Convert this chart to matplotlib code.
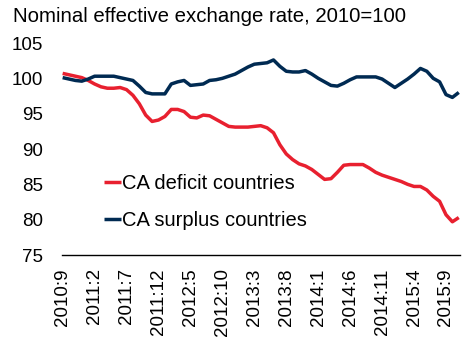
import matplotlib
matplotlib.use("Agg")
import matplotlib.pyplot as plt
import numpy as np

plt.rcParams["font.family"] = ["Liberation Sans", "DejaVu Sans"]

# monthly, 2010:9 .. 2015:11
months = [f"{2010 + (8 + i) // 12}:{(8 + i) % 12 + 1}" for i in range(63)]

deficit = [100.7, 100.5, 100.3, 100.1, 99.7, 99.2, 98.8, 98.6, 98.6, 98.7,
           98.4, 97.6, 96.4, 94.8, 93.9, 94.1, 94.6, 95.6, 95.6, 95.3,
           94.5, 94.4, 94.8, 94.7, 94.2, 93.7, 93.2, 93.1, 93.1, 93.1,
           93.2, 93.3, 93.0, 92.3, 90.6, 89.3, 88.5, 87.9, 87.6, 87.1,
           86.4, 85.7, 85.8, 86.7, 87.7, 87.8, 87.8, 87.8, 87.3, 86.7,
           86.3, 86.0, 85.7, 85.4, 85.0, 84.7, 84.7, 84.2, 83.3, 82.6,
           80.7, 79.7, 80.3]

surplus = [100.1, 99.9, 99.7, 99.6, 99.9, 100.3, 100.3, 100.3, 100.3, 100.1,
           99.9, 99.7, 98.9, 98.0, 97.8, 97.8, 97.8, 99.2, 99.5, 99.7,
           99.0, 99.1, 99.2, 99.7, 99.8, 100.0, 100.3, 100.6, 101.1, 101.6,
           102.0, 102.1, 102.2, 102.6, 101.7, 101.0, 100.9, 100.9, 101.1, 100.6,
           100.0, 99.5, 99.0, 98.9, 99.3, 99.8, 100.2, 100.2, 100.2, 100.2,
           99.9, 99.3, 98.7, 99.3, 99.9, 100.6, 101.4, 101.0, 100.0, 99.5,
           97.7, 97.3, 98.0]

yticks = [75, 80, 85, 90, 95, 100, 105]

RED = "#E8202F"
NAVY = "#002A52"

fig = plt.figure(figsize=(4.68, 3.44), dpi=100)
ax = fig.add_axes([0.1325, 0.2587, 0.8505, 0.6163])

x = np.arange(len(months))
ax.plot(x, deficit, color=RED, lw=2.5, label="CA deficit countries",
        solid_joinstyle="round", solid_capstyle="butt")
ax.plot(x, surplus, color=NAVY, lw=2.5, label="CA surplus countries",
        solid_joinstyle="round", solid_capstyle="butt")

ax.set_xlim(-0.1, 62.2)
ax.set_ylim(75, 105)
ax.set_yticks(yticks)
ax.set_yticklabels([str(v) for v in yticks], fontsize=13.5)
ax.set_xticks(x[::5])
ax.set_xticklabels(months[::5], rotation=90, fontsize=13.5)
ax.tick_params(axis="y", length=0, pad=13.5)
ax.tick_params(axis="x", length=0, pad=9.5)

for s in ("top", "right", "left"):
    ax.spines[s].set_visible(False)
ax.spines["bottom"].set_linewidth(1.0)
ax.spines["bottom"].set_color("black")

ax.legend(loc="upper left", bbox_to_anchor=(104 / 468, 1 - 174 / 344),
          bbox_transform=fig.transFigure, frameon=False, fontsize=14.5,
          handlelength=0.85, handletextpad=0.05, labelspacing=0.9,
          borderpad=0, borderaxespad=0)

fig.text(13 / 468, 1 - 22 / 344, "Nominal effective exchange rate, 2010=100",
         fontsize=14.7, va="baseline", ha="left")

fig.savefig("out.png", dpi=100)
